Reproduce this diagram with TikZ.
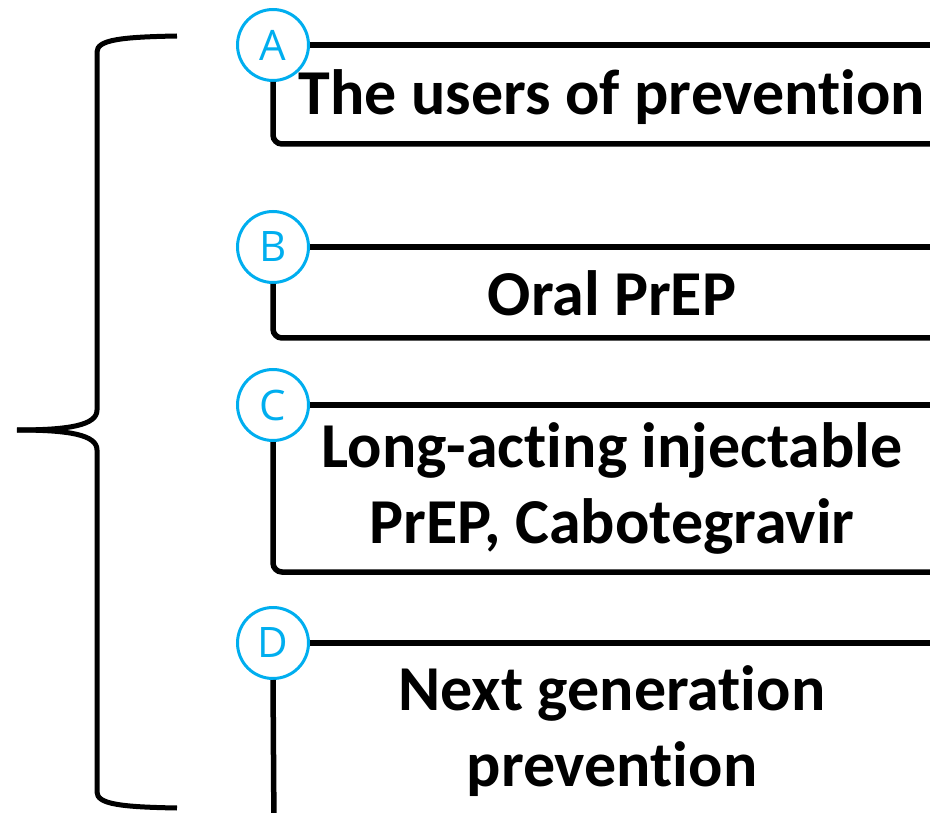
\documentclass[tikz,border=0pt]{standalone}
\usepackage{fontspec}
\setmainfont[Ligatures=NoCommon]{Carlito}
\newfontfamily\letterfont{Open Sans}
\definecolor{cyanc}{HTML}{00AEEF}
\begin{document}
\begin{tikzpicture}[x=1pt,y=-1pt,
  badge/.style={circle,draw=cyanc,line width=3pt,fill=white,minimum size=71pt,inner sep=0pt,text=cyanc,font=\letterfont\fontsize{42}{42}\selectfont},
  boxline/.style={line width=5.5pt,rounded corners=9pt},
  label/.style={font=\bfseries\fontsize{64}{76}\selectfont,align=center,inner sep=0pt,anchor=base},
  bracel/.style={line width=5pt,line cap=butt}]
\useasboundingbox (0,0) rectangle (930,813);
\clip (0,0) rectangle (930,813);
% brace
\draw[bracel] (177,36) .. controls (120,37) and (97,40) .. (97,52) -- (97,410)
  .. controls (97,425) and (70,430) .. (17,430);
\draw[bracel] (17,430) .. controls (70,430) and (97,435) .. (97,450) -- (97,792)
  .. controls (97,804) and (120,807) .. (177,808);
% boxes
\node[badge] (cA) at (273,45) {A};
\node[badge] (cB) at (273,247) {B};
\node[badge] (cC) at (273,405) {C};
\node[badge] (cD) at (273,643) {D};
\coordinate (eA) at (960,144);
\coordinate (eB) at (960,338);
\coordinate (eC) at (960,572);
\coordinate (eD) at (274,830);
\draw[boxline] (cA.east) -- ++(700,0);
\draw[boxline] (cA.south) |- (eA);
\draw[boxline] (cB.east) -- ++(700,0);
\draw[boxline] (cB.south) |- (eB);
\draw[boxline] (cC.east) -- ++(700,0);
\draw[boxline] (cC.south) |- (eC);
\draw[boxline] (cD.east) -- ++(700,0);
\draw[boxline] (cD.south) -- (eD);
% texts
\node[label] (tA) at (612,115) {The users of prevention};
\node[label] (tB) at (612,316) {Oral PrEP};
\node[label] (tC) at (612,543) {Long-acting injectable\\PrEP, Cabotegravir};
\node[label] (tD) at (612,786) {Next generation\\prevention};
\end{tikzpicture}
\end{document}
